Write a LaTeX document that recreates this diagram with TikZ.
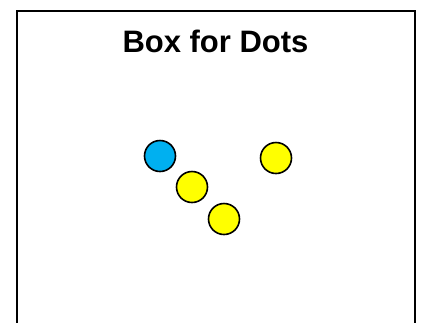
\documentclass[tikz,border=0pt]{standalone}
\usepackage{fontspec}
\setmainfont{Liberation Sans}
\usepackage{xcolor}
\usetikzlibrary{positioning}
\definecolor{dotblue}{HTML}{00B0F0}
\definecolor{dotyellow}{HTML}{FFFF00}

\begin{document}
\begin{tikzpicture}[x=1pt, y=-1pt,
    dot/.style={circle, draw, line width=1.6pt, minimum width=31pt, inner sep=0pt},
    title/.style={font=\fontsize{31}{36}\selectfont\bfseries, anchor=base}]
    \clip (0,0) rectangle (422,322);
    \useasboundingbox (0,0) rectangle (422,322);
    \draw[line width=2pt] (17,330) -- (17,11) -- (415,11) -- (415,330);
    \node[title] (heading) at (215.5,52) {Box for Dots};
    \node[dot, fill=dotblue] (blue) at (160,156) {};
    \node[dot, fill=dotyellow] (right) at (276,158) {};
    \node[dot, fill=dotyellow] (middle) at (192,187) {};
    \node[dot, fill=dotyellow] (low) at (224,219) {};
\end{tikzpicture}
\end{document}
